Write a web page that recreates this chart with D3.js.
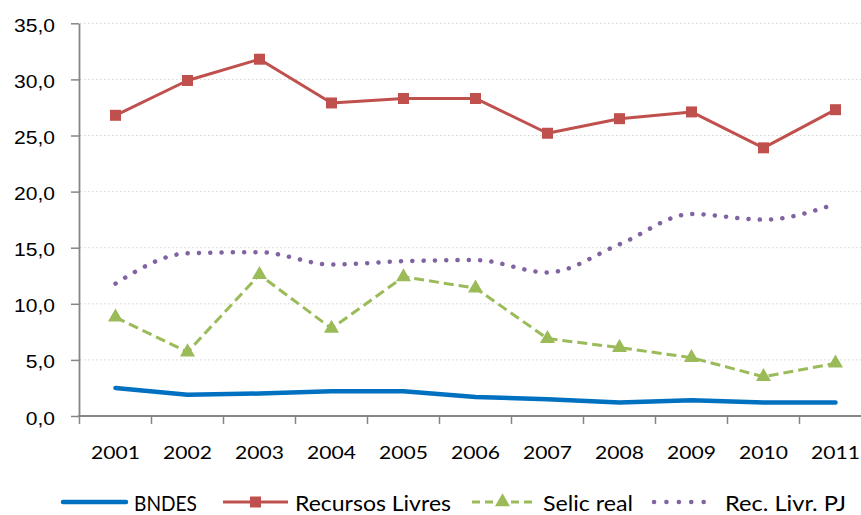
<!DOCTYPE html>
<html>
<head>
<meta charset="utf-8">
<script src="https://cdn.jsdelivr.net/npm/d3@7/dist/d3.min.js"></script>
<style>
  html, body { margin: 0; padding: 0; background: #fff; }
  svg { display: block; font-family: Lato, "Open Sans", sans-serif; }
</style>
</head>
<body>
<svg id="chart" width="861" height="515"></svg>
<script>
// Annual rates, 2001-2011
const years = ["2001","2002","2003","2004","2005","2006","2007","2008","2009","2010","2011"];
const bndes          = [2.5, 1.9, 2.0, 2.2, 2.2, 1.7, 1.5, 1.2, 1.4, 1.2, 1.2];
const recursosLivres = [26.8, 29.9, 31.8, 27.9, 28.3, 28.3, 25.2, 26.5, 27.1, 23.9, 27.3];
const selicReal      = [8.8, 5.7, 12.6, 7.8, 12.4, 11.4, 6.9, 6.1, 5.2, 3.5, 4.7];
const recLivrPJ      = [11.8, 14.5, 14.6, 13.5, 13.8, 13.9, 12.8, 15.3, 18.0, 17.5, 18.9];
const yTicks = [0, 5, 10, 15, 20, 25, 30, 35];
const seriesNames = ["BNDES", "Recursos Livres", "Selic real", "Rec. Livr. PJ"];

const W = 861, H = 515;
const svg = d3.select("#chart");
const axisColor = "#868686";
const textStretch = 1.17;

const x = d3.scaleBand().domain(years).range([79.5, 871.5]);
const y = d3.scaleLinear().domain([0, 35]).range([416, 23.3]);
const cx = d => x(d) + x.bandwidth() / 2;
const fmt = v => d3.format(".1f")(v).replace(".", ",");

// dotted horizontal gridlines
svg.append("g")
  .selectAll("line")
  .data(yTicks.filter(t => t > 0))
  .join("line")
  .attr("x1", 80).attr("x2", W)
  .attr("y1", d => y(d)).attr("y2", d => y(d))
  .attr("stroke", "#d4d4d4")
  .attr("stroke-width", 1)
  .attr("stroke-dasharray", "1.5 2.5");

// y axis
const yAxis = svg.append("g")
  .attr("transform", "translate(79,0)")
  .call(d3.axisLeft(y).tickValues(yTicks).tickSize(8).tickSizeOuter(0).tickFormat(fmt));
yAxis.select(".domain").attr("stroke", axisColor).attr("stroke-width", 1.8);
yAxis.selectAll(".tick line").attr("stroke", axisColor).attr("stroke-width", 1.5);
yAxis.selectAll(".tick text")
  .attr("fill", "#000")
  .attr("font-size", 18)
  .attr("dy", null)
  .attr("x", -24 / textStretch)
  .attr("y", 8)
  .attr("transform", `scale(${textStretch},1)`);

// x axis: line, boundary ticks and centred year labels
const xAxisY = y(0);
svg.append("line")
  .attr("x1", 78).attr("x2", W)
  .attr("y1", xAxisY).attr("y2", xAxisY)
  .attr("stroke", axisColor).attr("stroke-width", 1.8);
svg.append("g")
  .selectAll("line")
  .data(years.concat(["end"]))
  .join("line")
  .attr("x1", d => d === "end" ? x.range()[1] : x(d))
  .attr("x2", d => d === "end" ? x.range()[1] : x(d))
  .attr("y1", xAxisY).attr("y2", xAxisY + 8)
  .attr("stroke", axisColor).attr("stroke-width", 1.5);
svg.append("g")
  .selectAll("text")
  .data(years)
  .join("text")
  .attr("transform", d => `translate(${cx(d)},${xAxisY + 43}) scale(${textStretch},1)`)
  .attr("text-anchor", "middle")
  .attr("font-size", 18)
  .attr("fill", "#000")
  .text(d => d);

// series
const linear = d3.line().x((d, i) => cx(years[i])).y(d => y(d));
const smooth = d3.line().x((d, i) => cx(years[i])).y(d => y(d)).curve(d3.curveMonotoneX);

const colors = { bndes: "#0070C0", rl: "#C0504D", selic: "#9BBB59", pj: "#8064A2" };
const square = d3.symbol(d3.symbolSquare, 121);
const triangle = d3.symbol(d3.symbolTriangle, 98);

svg.append("path").datum(recLivrPJ)
  .attr("d", smooth)
  .attr("fill", "none").attr("stroke", colors.pj)
  .attr("stroke-width", 4.5).attr("stroke-linecap", "round")
  .attr("stroke-dasharray", "0.1 11.2");

svg.append("path").datum(selicReal)
  .attr("d", linear)
  .attr("fill", "none").attr("stroke", colors.selic)
  .attr("stroke-width", 3).attr("stroke-dasharray", "10 5");
svg.append("g").selectAll("path").data(selicReal).join("path")
  .attr("d", triangle)
  .attr("transform", (d, i) => `translate(${cx(years[i])},${y(d)})`)
  .attr("fill", colors.selic);

svg.append("path").datum(recursosLivres)
  .attr("d", linear)
  .attr("fill", "none").attr("stroke", colors.rl)
  .attr("stroke-width", 3).attr("stroke-linejoin", "round");
svg.append("g").selectAll("path").data(recursosLivres).join("path")
  .attr("d", square)
  .attr("transform", (d, i) => `translate(${cx(years[i])},${y(d)})`)
  .attr("fill", colors.rl);

svg.append("path").datum(bndes)
  .attr("d", linear)
  .attr("fill", "none").attr("stroke", colors.bndes)
  .attr("stroke-width", 4.5).attr("stroke-linejoin", "round").attr("stroke-linecap", "round");

// legend
const legY = 502;
const legend = svg.append("g");
const items = [
  { name: seriesNames[0], x0: 63, x1: 126, tx: 134, tw: 63, draw: g => g.attr("stroke", colors.bndes).attr("stroke-width", 4.5).attr("stroke-linecap", "round") },
  { name: seriesNames[1], x0: 223, x1: 288, tx: 295, tw: 156, mark: square, color: colors.rl, draw: g => g.attr("stroke", colors.rl).attr("stroke-width", 3) },
  { name: seriesNames[2], x0: 472, x1: 533, tx: 543, tw: 90, mark: triangle, color: colors.selic, draw: g => g.attr("stroke", colors.selic).attr("stroke-width", 3).attr("stroke-dasharray", "8 5") },
  { name: seriesNames[3], x0: 654, x1: 716, tx: 725, tw: 121, draw: g => g.attr("stroke", colors.pj).attr("stroke-width", 4.5).attr("stroke-linecap", "round").attr("stroke-dasharray", "0.1 12.3") }
];
items.forEach(it => {
  legend.append("line")
    .attr("x1", it.x0).attr("x2", it.x1)
    .attr("y1", legY).attr("y2", legY)
    .call(it.draw);
  if (it.mark) {
    legend.append("path")
      .attr("d", it.mark)
      .attr("transform", `translate(${(it.x0 + it.x1) / 2},${legY})`)
      .attr("fill", it.color);
  }
  legend.append("text")
    .attr("x", it.tx).attr("y", legY + 8.5)
    .attr("font-size", 21)
    .attr("textLength", it.tw)
    .attr("lengthAdjust", "spacingAndGlyphs")
    .attr("fill", "#000")
    .text(it.name);
});
</script>
</body>
</html>
